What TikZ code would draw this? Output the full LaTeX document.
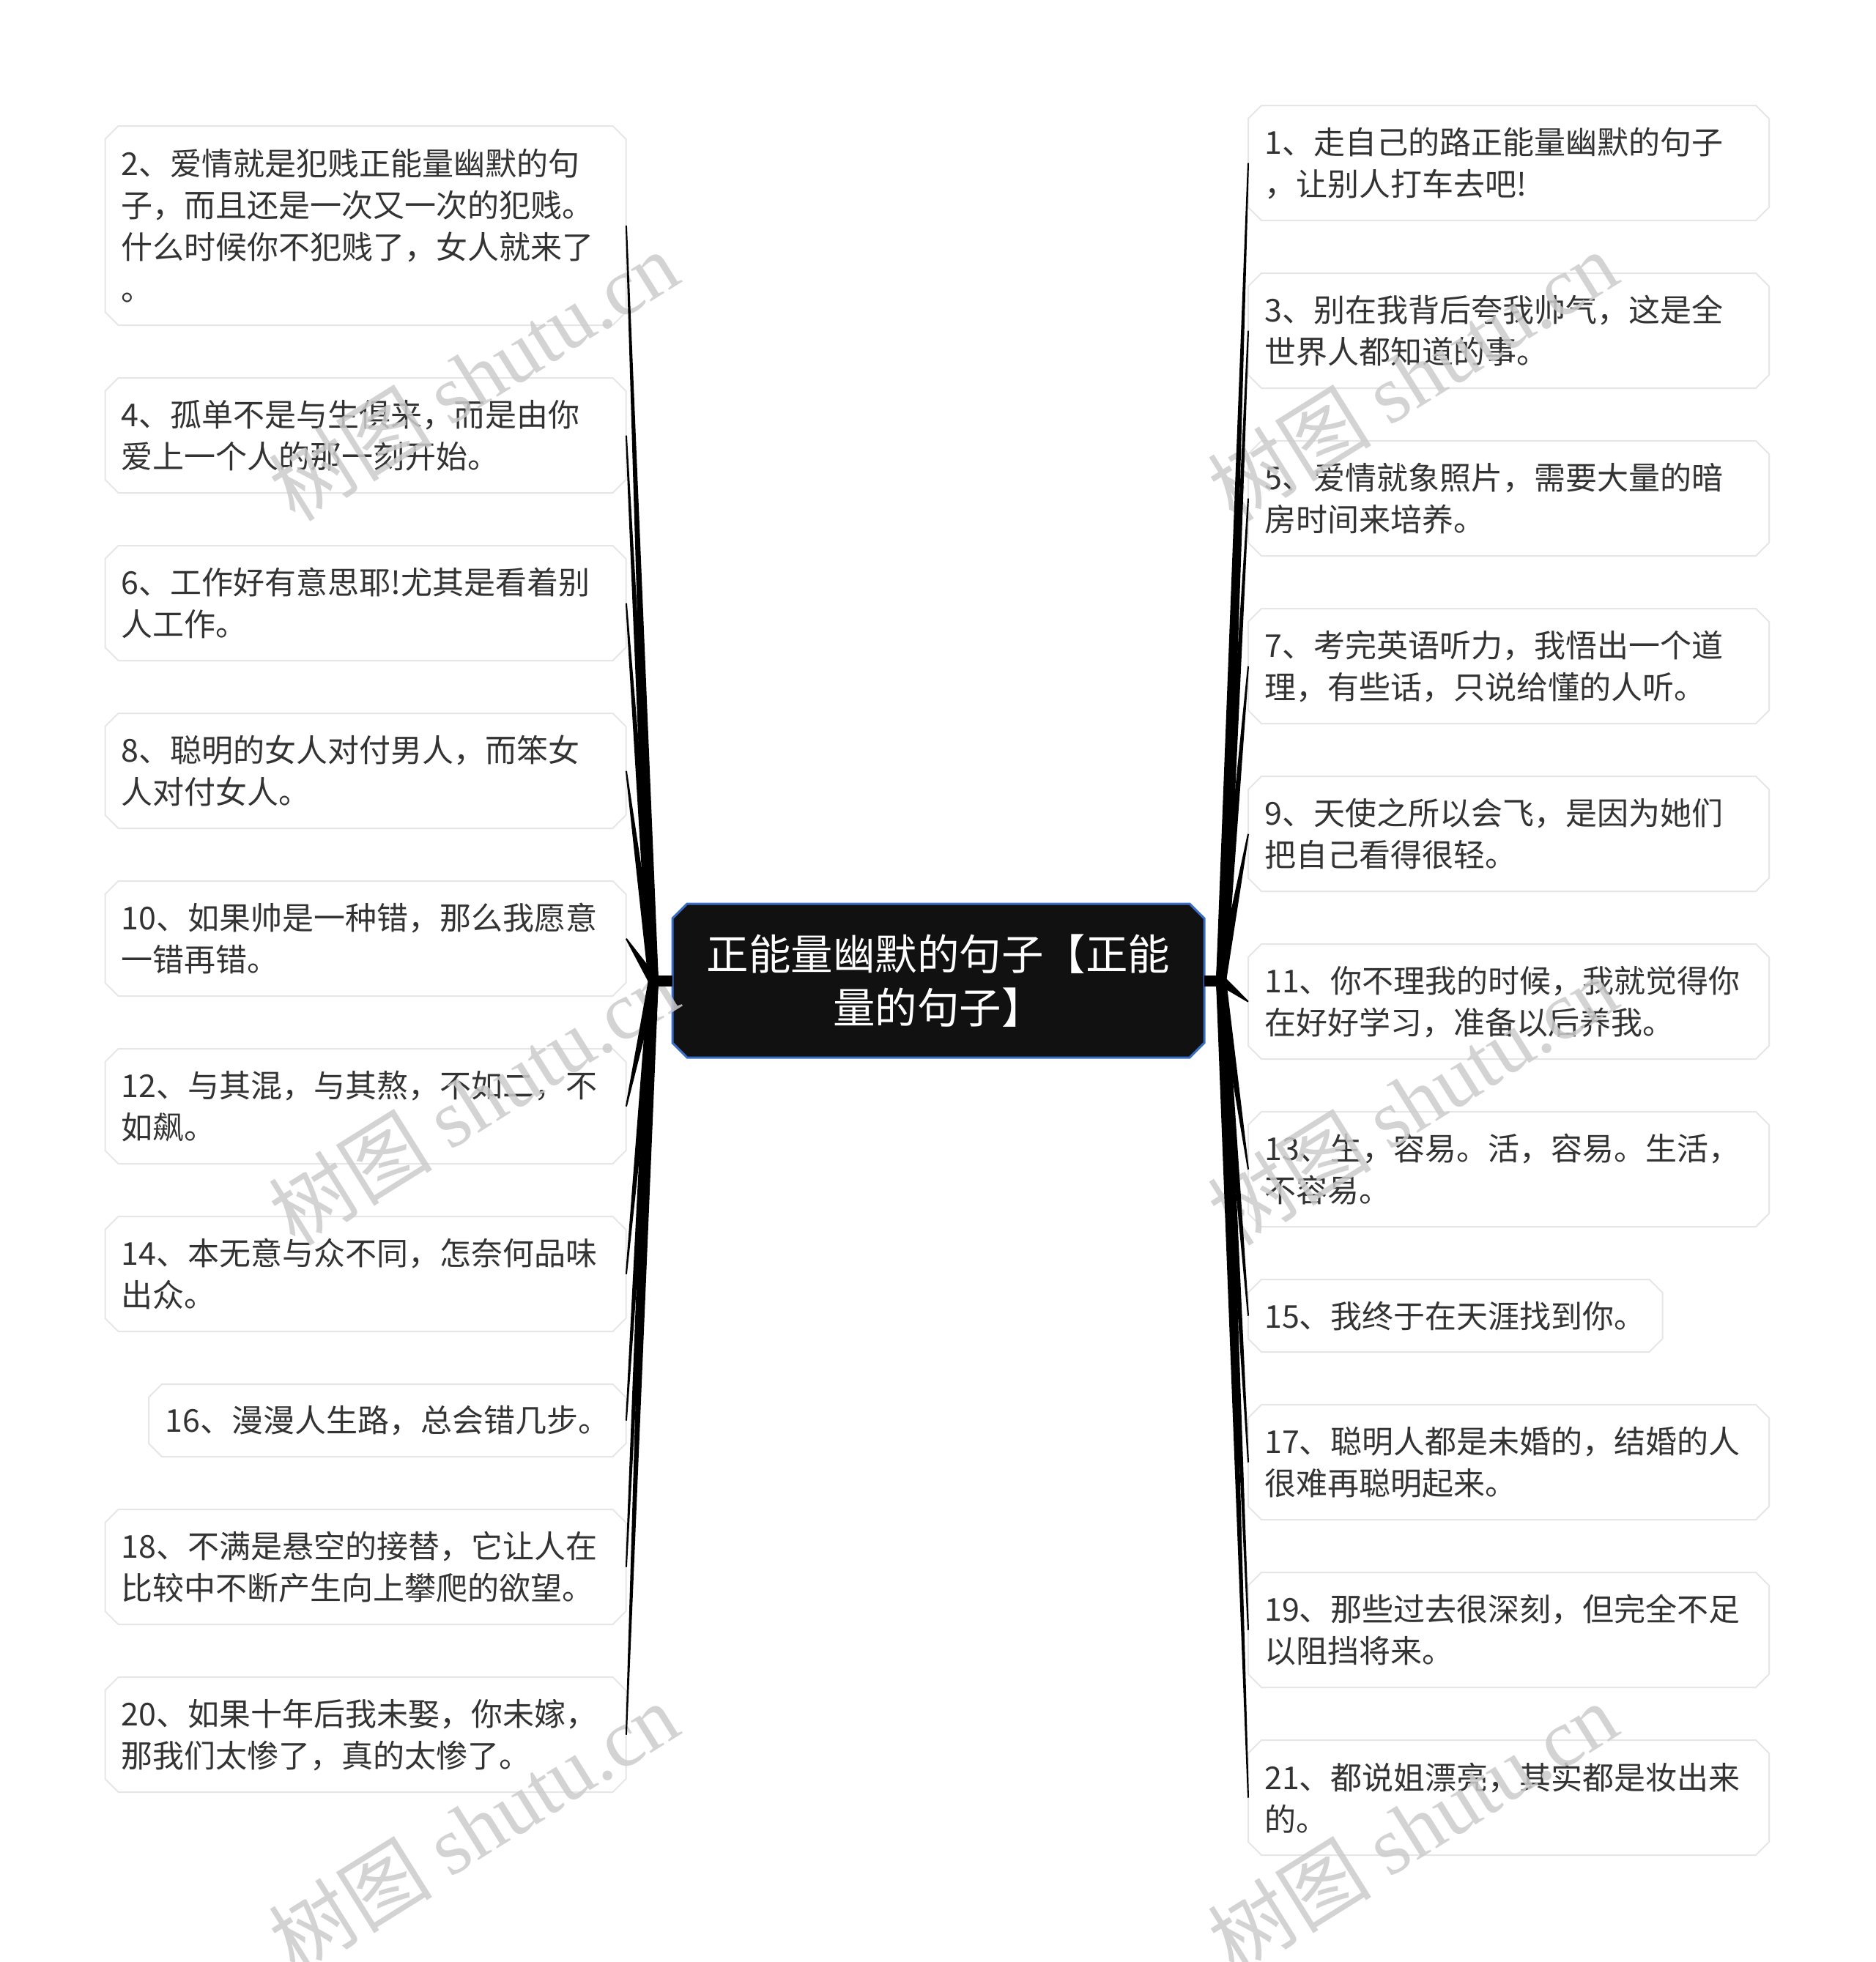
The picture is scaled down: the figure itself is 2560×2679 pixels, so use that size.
\documentclass[tikz,border=0pt]{standalone}
\usepackage{fontspec}
\setmainfont{Noto Sans CJK SC}
\newfontfamily\wmserif{Liberation Serif}
\usetikzlibrary{calc}
\definecolor{txt}{HTML}{333333}
\definecolor{boxedge}{HTML}{E6E6E6}
\definecolor{rootfill}{HTML}{111111}
\definecolor{rootedge}{HTML}{3B6CC4}
\definecolor{wmgray}{HTML}{CCCCCC}
\tikzset{
  boxline/.style={draw=boxedge, fill=white, line width=2pt},
  boxtext/.style={text=txt, font=\fontsize{43pt}{57pt}\selectfont, align=left, inner xsep=22pt, inner ysep=0pt},
  rootline/.style={draw=rootedge, fill=rootfill, line width=3pt},
  roottext/.style={text=white, font=\fontsize{57.5pt}{73.5pt}\selectfont, align=center, minimum width=726pt, minimum height=210pt, inner sep=0pt},
  branchfill/.style={fill=black},
  stub/.style={draw=black, line width=15pt},
  wm/.style={text=wmgray, font=\fontsize{112pt}{112pt}\selectfont, opacity=0.85, inner sep=0pt}
}
\newcommand\cbox[7]{%
  \filldraw[boxline] ({#2+18},{#3}) -- ({#2+#4-18},{#3}) -- ({#2+#4},{#3+18}) -- ({#2+#4},{#3+#5-18}) -- ({#2+#4-18},{#3+#5}) -- ({#2+18},{#3+#5}) -- ({#2},{#3+#5-18}) -- ({#2},{#3+18}) -- cycle;
  \node[boxtext, anchor=north west, minimum width=#4pt, minimum height=#5pt, text width=#6pt] (#1) at (#2,#3) {#7};}
\newcommand\tapered[2]{%
  \fill[branchfill] ($(#1)!7pt!90:(#2)$) -- ($(#2)!1pt!-90:(#1)$) -- ($(#2)!1pt!90:(#1)$) -- ($(#1)!7pt!-90:(#2)$) -- cycle;}
\begin{document}
\begin{tikzpicture}[x=1pt,y=-1pt]
\useasboundingbox (0,0) rectangle (2560,2679);
\fill[white] (0,0) rectangle (2560,2679);

% left column
\cbox{b2}{143.5}{172}{711}{272}{667}{2、爱情就是犯贱正能量幽默的句\\子，而且还是一次又一次的犯贱。\\什么时候你不犯贱了，女人就来了\\。}
\cbox{b4}{143.5}{516}{711}{157}{667}{4、孤单不是与生俱来，而是由你\\爱上一个人的那一刻开始。}
\cbox{b6}{143.5}{745}{711}{157}{667}{6、工作好有意思耶!尤其是看着别\\人工作。}
\cbox{b8}{143.5}{974}{711}{157}{667}{8、聪明的女人对付男人，而笨女\\人对付女人。}
\cbox{b10}{143.5}{1203}{711}{157}{667}{10、如果帅是一种错，那么我愿意\\一错再错。}
\cbox{b12}{143.5}{1432}{711}{157}{667}{12、与其混，与其熬，不如二，不\\如飙。}
\cbox{b14}{143.5}{1661}{711}{157}{667}{14、本无意与众不同，怎奈何品味\\出众。}
\cbox{b16}{203}{1890}{651.5}{99}{607}{16、漫漫人生路，总会错几步。}
\cbox{b18}{143.5}{2061}{711}{157}{667}{18、不满是悬空的接替，它让人在\\比较中不断产生向上攀爬的欲望。}
\cbox{b20}{143.5}{2290}{711}{157}{667}{20、如果十年后我未娶，你未嫁，\\那我们太惨了，真的太惨了。}

% right column
\cbox{b1}{1704}{144}{711}{157}{667}{1、走自己的路正能量幽默的句子\\，让别人打车去吧!}
\cbox{b3}{1704}{373}{711}{157}{667}{3、别在我背后夸我帅气，这是全\\世界人都知道的事。}
\cbox{b5}{1704}{602}{711}{157}{667}{5、爱情就象照片，需要大量的暗\\房时间来培养。}
\cbox{b7}{1704}{831}{711}{157}{667}{7、考完英语听力，我悟出一个道\\理，有些话，只说给懂的人听。}
\cbox{b9}{1704}{1060}{711}{157}{667}{9、天使之所以会飞，是因为她们\\把自己看得很轻。}
\cbox{b11}{1704}{1289}{711}{157}{667}{11、你不理我的时候，我就觉得你\\在好好学习，准备以后养我。}
\cbox{b13}{1704}{1518}{711}{157}{667}{13、生，容易。活，容易。生活，\\不容易。}
\cbox{b15}{1704}{1747}{565.5}{99}{521.5}{15、我终于在天涯找到你。}
\cbox{b17}{1704}{1918}{711}{157}{667}{17、聪明人都是未婚的，结婚的人\\很难再聪明起来。}
\cbox{b19}{1704}{2147}{711}{157}{667}{19、那些过去很深刻，但完全不足\\以阻挡将来。}
\cbox{b21}{1704}{2376}{711}{157}{667}{21、都说姐漂亮，其实都是妆出来\\的。}

% root
\filldraw[rootline] (938,1234) -- (1624,1234) -- (1644,1254) -- (1644,1424) -- (1624,1444) -- (938,1444) -- (918,1424) -- (918,1254) -- cycle;
\node[roottext] (root) at (1281,1339) {正能量幽默的句子【正能\\量的句子】};

% watermarks
\node[wm, rotate=32] (wm1) at (646,513) {树图 {\wmserif shutu.cn}};
\node[wm, rotate=32] (wm2) at (1928,513) {树图 {\wmserif shutu.cn}};
\node[wm, rotate=32] (wm3) at (646,1502) {树图 {\wmserif shutu.cn}};
\node[wm, rotate=32] (wm4) at (1928,1502) {树图 {\wmserif shutu.cn}};
\node[wm, rotate=32] (wm5) at (646,2495) {树图 {\wmserif shutu.cn}};
\node[wm, rotate=32] (wm6) at (1928,2495) {树图 {\wmserif shutu.cn}};

% junctions and connectors
\coordinate (JL) at (892,1339);
\coordinate (JR) at (1667,1339);
\draw[stub] (root.west) -- (JL);
\draw[stub] (root.east) -- (JR);
\foreach \b in {b2,b4,b6,b8,b10,b12,b14,b16,b18,b20}{\tapered{JL}{\b.east}}
\foreach \b in {b1,b3,b5,b7,b9,b11,b13,b15,b17,b19,b21}{\tapered{JR}{\b.west}}
\end{tikzpicture}
\end{document}
